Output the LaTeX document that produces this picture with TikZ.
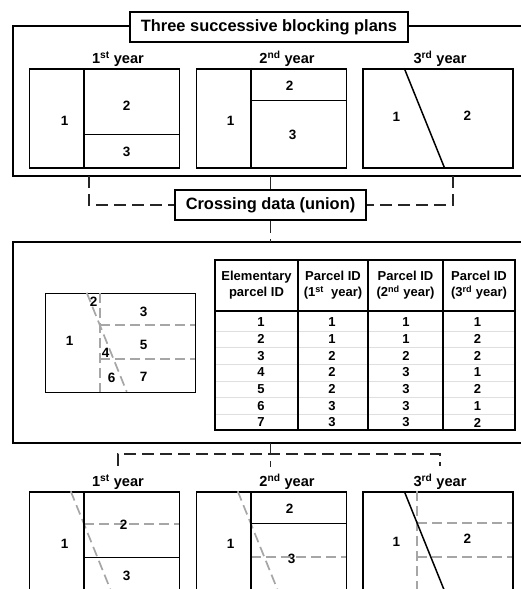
\documentclass[tikz,border=0pt]{standalone}
\usepackage{fontspec}
\setmainfont{Liberation Sans}
\begin{document}
\begin{tikzpicture}[x=1pt,y=-1pt,
  frame/.style={line width=2.8pt},
  titlebox/.style={draw,line width=2.8pt,fill=white,inner sep=0pt,font=\fontsize{16.4}{18}\selectfont\bfseries},
  plan/.style={draw,line width=1.5pt,minimum width=150pt,minimum height=99pt,inner sep=0pt},
  yearlbl/.style={font=\fontsize{14.6}{16}\selectfont\bfseries,inner sep=0pt,anchor=base},
  num/.style={font=\fontsize{13.5}{14}\selectfont\bfseries,inner sep=0pt},
  solidln/.style={line width=1.5pt},
  greyln/.style={line width=1.7pt,gray!70,dash pattern=on 10pt off 5pt},
  conn/.style={line width=1.6pt,black!85,dash pattern=on 12pt off 6pt},
  hdr/.style={font=\fontsize{13}{16}\selectfont\bfseries,align=center,inner sep=0pt},
  cell/.style={font=\fontsize{13}{14}\selectfont\bfseries,inner sep=0pt},
  tline/.style={line width=1.5pt},
  rowsep/.style={line width=0.8pt,gray!25}]
\useasboundingbox (0,0) rectangle (521,589);
\clip (0,0) rectangle (521,589);
% frames
\draw[frame] (13,26) rectangle (540,176);
\draw[frame] (13,242) rectangle (540,443);
\node[titlebox,minimum width=278pt,minimum height=30pt] (title) at (269,27) {Three successive blocking plans};
\node[titlebox,minimum width=191pt,minimum height=30pt] (cross) at (270.5,205) {Crossing data (union)};
% connector coordinates
\coordinate (f1a) at (89,176);
\coordinate (f1b) at (270.5,176);
\coordinate (f1c) at (453,176);
\coordinate (f2t) at (270.5,242);
\coordinate (f2b) at (270.5,443);
\coordinate (bm) at (270.5,467);
\coordinate (jl) at (118,454);
\coordinate (jr) at (440,454);
\coordinate (bl) at (118,466);
\coordinate (br) at (440,466);
\draw[conn] (f1a) |- (cross.west);
\draw[conn] (f1c) |- (cross.east);
\draw[line width=1.6pt,black!85] (f1b) -- (cross.north);
\draw[conn] (cross.south) -- (f2t);
\draw[conn] (bl) -- (jl) -- (jr) -- (br);
\draw[conn] (f2b) -- (bm);
% top year labels
\node[yearlbl] (y1) at (118,63.5) {1\textsuperscript{st} year};
\node[yearlbl] (y2) at (287,63.5) {2\textsuperscript{nd} year};
\node[yearlbl] (y3) at (440,63.5) {3\textsuperscript{rd} year};
% top plans
\node[plan] (p1) at (104.5,118.5) {};
\node[plan] (p2) at (271.5,118.5) {};
\node[plan] (p3) at (438,118.5) {};
\begin{scope}[shift={(p1.north west)}]
  \draw[solidln] (55,0) -- (55,99);
  \draw[solidln] (55,66) -- (150,66);
  \node[num] (p1n1) at (36,53) {1};
  \node[num] (p1n2) at (98,38) {2};
  \node[num] (p1n3) at (98,84) {3};
\end{scope}
\begin{scope}[shift={(p2.north west)}]
  \draw[solidln] (55,0) -- (55,99);
  \draw[solidln] (55,32) -- (150,32);
  \node[num] (p2n1) at (35,53) {1};
  \node[num] (p2n2) at (94,18) {2};
  \node[num] (p2n3) at (97,67) {3};
\end{scope}
\begin{scope}[shift={(p3.north west)}]
  \draw[solidln] (42,0) -- (82,99);
  \node[num] (p3n1) at (34,49) {1};
  \node[num] (p3n2) at (105,48) {2};
\end{scope}
% union plan
\node[plan] (u) at (120.5,343) {};
\begin{scope}[shift={(u.north west)}]
  \draw[greyln] (55,0) -- (55,99);
  \draw[greyln] (42,0) -- (82,99);
  \draw[greyln] (55,32) -- (150,32);
  \draw[greyln] (55,66) -- (150,66);
  \node[num] (un2) at (49,9) {2};
  \node[num] (un3) at (99,19) {3};
  \node[num] (un1) at (25,48) {1};
  \node[num] (un4) at (61,60) {4};
  \node[num] (un5) at (99,52) {5};
  \node[num] (un6) at (67,85) {6};
  \node[num] (un7) at (99,84) {7};
\end{scope}
% table
\foreach \i in {0,...,5} {
  \draw[rowsep] (215,331+16.7*\i) -- (515,331+16.7*\i);
}
\draw[tline] (215,260) rectangle (515,430);
\draw[tline] (215,311) -- (515,311);
\foreach \x in {298,368,443} { \draw[tline] (\x,260) -- (\x,430); }
\node[hdr] (h1) at (256.5,285) {Elementary\\parcel ID};
\node[hdr] (h2) at (333,285) {Parcel ID\\(1\textsuperscript{st}\ \ year)};
\node[hdr] (h3) at (405.5,285) {Parcel ID\\(2\textsuperscript{nd} year)};
\node[hdr] (h4) at (479,285) {Parcel ID\\(3\textsuperscript{rd} year)};
\foreach \a/\b/\c/\d [count=\r from 0] in {1/1/1/1,2/1/1/2,3/2/2/2,4/2/3/1,5/2/3/2,6/3/3/1,7/3/3/2} {
  \node[cell] (ca\r) at (261,322.3+16.7*\r) {\a};
  \node[cell] (cb\r) at (332,322.3+16.7*\r) {\b};
  \node[cell] (cc\r) at (406,322.3+16.7*\r) {\c};
  \node[cell] (cd\r) at (477.5,322.3+16.7*\r) {\d};
}
% bottom year labels
\node[yearlbl] (yb1) at (118,486.7) {1\textsuperscript{st} year};
\node[yearlbl] (yb2) at (287,486.7) {2\textsuperscript{nd} year};
\node[yearlbl] (yb3) at (440,486.7) {3\textsuperscript{rd} year};
% bottom plans
\node[plan] (q1) at (104.5,541.5) {};
\node[plan] (q2) at (271.5,541.5) {};
\node[plan] (q3) at (438,541.5) {};
\begin{scope}[shift={(q1.north west)}]
  \draw[greyln] (42,0) -- (82,99);
  \draw[greyln] (55,33) -- (150,33);
  \draw[solidln] (55,0) -- (55,99);
  \draw[solidln] (55,66) -- (150,66);
  \node[num] (q1n1) at (36,53) {1};
  \node[num] (q1n2) at (95,34) {2};
  \node[num] (q1n3) at (98,85) {3};
\end{scope}
\begin{scope}[shift={(q2.north west)}]
  \draw[greyln] (42,0) -- (82,99);
  \draw[greyln] (55,66) -- (150,66);
  \draw[solidln] (55,0) -- (55,99);
  \draw[solidln] (55,32) -- (150,32);
  \node[num] (q2n1) at (35,53) {1};
  \node[num] (q2n2) at (94,18) {2};
  \node[num] (q2n3) at (96,68) {3};
\end{scope}
\begin{scope}[shift={(q3.north west)}]
  \draw[greyln] (55,0) -- (55,99);
  \draw[greyln] (55,32) -- (150,32);
  \draw[greyln] (55,66) -- (150,66);
  \draw[solidln] (42,0) -- (82,99);
  \node[num] (q3n1) at (34,51) {1};
  \node[num] (q3n2) at (105,48) {2};
\end{scope}
\end{tikzpicture}
\end{document}
